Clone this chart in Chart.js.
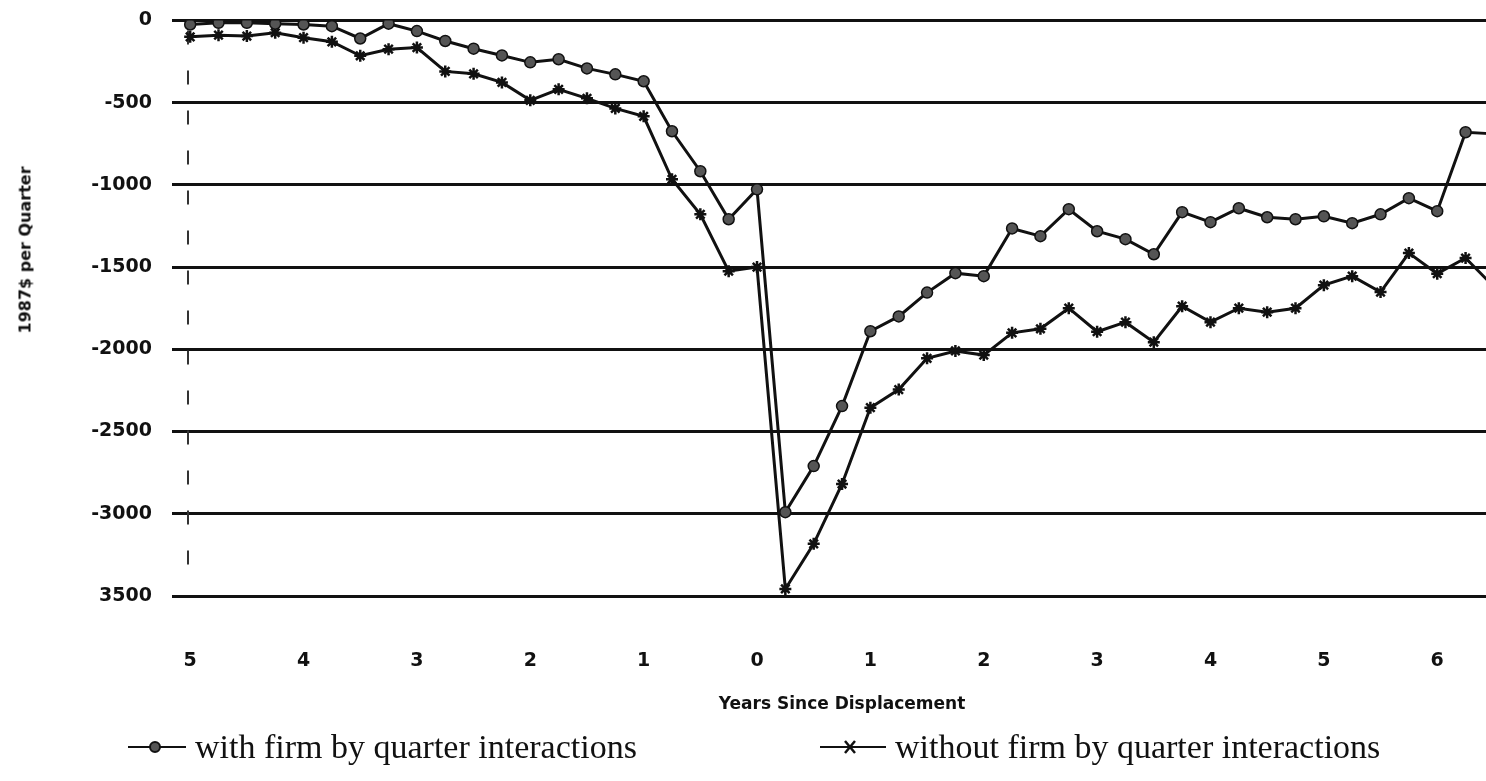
<!DOCTYPE html>
<html>
<head>
<meta charset="utf-8">
<script src="https://cdn.jsdelivr.net/npm/chart.js@4.4.1/dist/chart.umd.min.js"></script>
<style>
    html, body { margin: 0; padding: 0; background: #fff; overflow: hidden; }
    #wrap { position: relative; width: 1486px; height: 781px; overflow: hidden; }
    #chart { position: absolute; left: 0; top: -11px; }
    .legend-item { position: absolute; top: 728px; font-family: "Liberation Serif", serif; font-size: 34px; color: #111; white-space: nowrap; display: flex; align-items: center; }
    .legend-item svg { margin-right: 9px; }
    #ytitle { position: absolute; left: 25px; top: 250px; transform: translate(-50%, -50%) rotate(-90deg); font-family: "DejaVu Sans", sans-serif; font-weight: bold; font-size: 16px; color: #111; white-space: nowrap; }
</style>
</head>
<body>
<div id="wrap">
    <canvas id="chart" width="1540" height="792"></canvas>
    <div id="ytitle">1987$ per Quarter</div>
    <div class="legend-item" style="left:128px">
        <svg width="58" height="20"><line x1="0" y1="10" x2="58" y2="10" stroke="#111" stroke-width="2"/><circle cx="27" cy="10" r="5" fill="#555" stroke="#111" stroke-width="2"/></svg>
        <span>with firm by quarter interactions</span>
    </div>
    <div class="legend-item" style="left:820px">
        <svg width="66" height="20"><line x1="0" y1="10" x2="66" y2="10" stroke="#111" stroke-width="2"/><path d="M25 4 L35 16 M35 4 L25 16" stroke="#111" stroke-width="2.5"/></svg>
        <span>without firm by quarter interactions</span>
    </div>
</div>
<script>
// quarters since displacement, -20 (5 years before) to 26
const quarters = [];
for (let q = -20; q <= 26; q++) quarters.push(q);

// x tick labels, one every 4 quarters (years), minus signs lost in the original
const yearLabels = ["5", "4", "3", "2", "1", "0", "1", "2", "3", "4", "5", "6"];

// y tick labels as printed
const yTickValues = [0, -500, -1000, -1500, -2000, -2500, -3000, -3500];
const yTickLabels = ["0", "-500", "-1000", "-1500", "-2000", "-2500", "-3000", "3500"];

// earnings loss, 1987$ per quarter
const withFirm = [
    -25, -15, -15, -20, -25, -35, -110, -20, -65, -125,
    -172, -213, -255, -236, -292, -328, -370, -674, -917, -1209,
    -1027, -2990, -2710, -2345, -1890, -1800, -1655, -1537, -1555, -1265,
    -1312, -1148, -1282, -1330, -1422, -1166, -1227, -1142, -1197, -1209,
    -1191, -1233, -1179, -1081, -1160, -680, -690
];
const withoutFirm = [
    -100, -90, -95, -75, -105, -130, -215, -175, -165, -310,
    -325, -377, -486, -419, -474, -535, -583, -966, -1179, -1525,
    -1500, -3457, -3183, -2819, -2355, -2245, -2055, -2010, -2035, -1900,
    -1875, -1750, -1893, -1835, -1957, -1738, -1835, -1750, -1774, -1750,
    -1610, -1555, -1652, -1415, -1540, -1445, -1620
];

const tickFont = { family: "DejaVu Sans", size: 19, weight: "bold" };

// faint dashed left axis, as in the scanned original
const dashedAxis = {
    id: "dashedAxis",
    beforeDatasetsDraw(chart) {
        const { ctx, chartArea } = chart;
        const x = chartArea.left + 12;
        ctx.save();
        ctx.strokeStyle = "#333";
        ctx.lineWidth = 2;
        ctx.setLineDash([14, 26]);
        ctx.beginPath();
        ctx.moveTo(x, chartArea.top + 10);
        ctx.lineTo(x, chartArea.bottom - 10);
        ctx.stroke();
        ctx.restore();
    }
};

const ctx = document.getElementById("chart").getContext("2d");
new Chart(ctx, {
    type: "line",
    data: {
        labels: quarters,
        datasets: [
            {
                label: "with firm by quarter interactions",
                data: withFirm,
                borderColor: "#111",
                borderWidth: 3,
                tension: 0,
                pointStyle: "circle",
                pointRadius: 5.5,
                pointBackgroundColor: "#555",
                pointBorderColor: "#111",
                pointBorderWidth: 1.5
            },
            {
                label: "without firm by quarter interactions",
                data: withoutFirm,
                borderColor: "#111",
                borderWidth: 3,
                tension: 0,
                pointStyle: "star",
                pointRadius: 6,
                pointBorderColor: "#111",
                pointBorderWidth: 2.5
            }
        ]
    },
    options: {
        responsive: false,
        animation: false,
        layout: { padding: { top: 10, right: 0, bottom: 0, left: 0 } },
        plugins: {
            legend: { display: false },
            tooltip: { enabled: false }
        },
        scales: {
            x: {
                type: "category",
                offset: true,
                afterFit: scale => { scale.height = 185; },
                grid: { display: false },
                border: { display: false },
                ticks: {
                    autoSkip: false,
                    maxRotation: 0,
                    padding: 46,
                    color: "#111",
                    font: tickFont,
                    callback: (val, i) => (i % 4 === 0 ? yearLabels[i / 4] : "")
                },
                title: {
                    display: true,
                    text: "Years Since Displacement",
                    color: "#111",
                    font: { family: "DejaVu Sans", size: 17, weight: "bold" },
                    padding: { top: 0, bottom: 66 }
                }
            },
            y: {
                min: -3500,
                max: 0,
                afterFit: scale => { scale.width = 176; },
                afterBuildTicks: scale => { scale.ticks = yTickValues.map(v => ({ value: v })); },
                grid: { color: "#111", lineWidth: 3, tickLength: 4, drawTicks: true },
                border: { display: false },
                ticks: {
                    padding: 20,
                    color: "#111",
                    font: tickFont,
                    callback: v => yTickLabels[yTickValues.indexOf(v)]
                }
            }
        }
    },
    plugins: [dashedAxis]
});
</script>
</body>
</html>
